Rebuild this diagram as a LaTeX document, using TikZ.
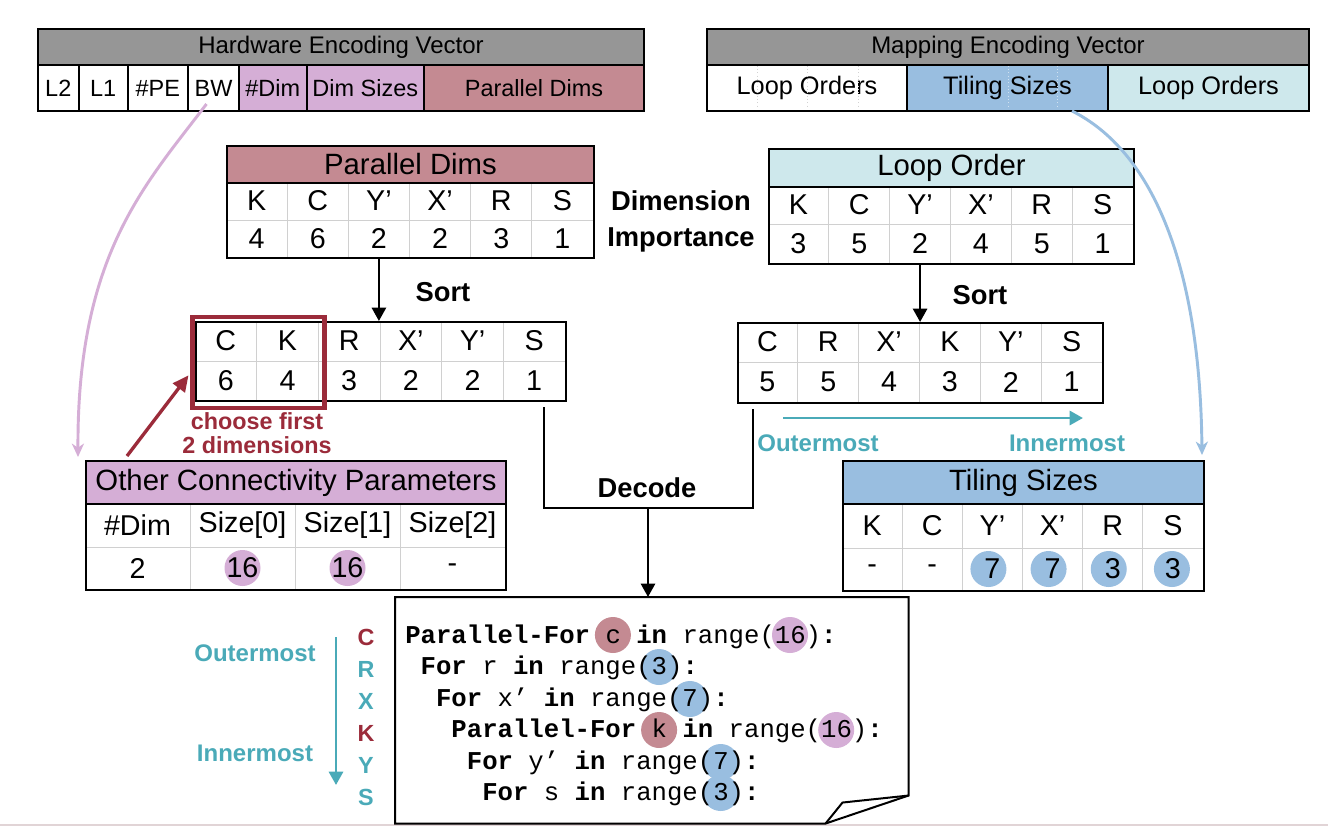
\documentclass[tikz,border=0pt]{standalone}
\usepackage{fontspec}
\setmainfont{Liberation Sans}
\newfontfamily\codefont{Liberation Mono}
\usetikzlibrary{calc,arrows.meta}
\pgfdeclarelayer{bg}
\pgfsetlayers{bg,main}
\definecolor{hwgray}{RGB}{150,150,150}
\definecolor{lpurple}{RGB}{213,174,214}
\definecolor{rosy}{RGB}{196,138,146}
\definecolor{lcyan}{RGB}{206,232,236}
\definecolor{lblue}{RGB}{153,190,224}
\definecolor{dred}{RGB}{155,43,58}
\definecolor{tealc}{RGB}{74,170,184}
\definecolor{gridc}{RGB}{208,208,208}
\definecolor{bline}{RGB}{225,212,214}
\newcommand{\myfs}[1]{\fontsize{#1}{#1}\selectfont}
\tikzset{
  cellt/.style={font=\myfs{21.5}, inner sep=0},
  titlebox/.style={draw=black, line width=1.5pt, anchor=north west, inner sep=0, font=\myfs{22}},
  tframe/.style={draw=black, line width=1.5pt, anchor=north west, inner sep=0},
  vecbox/.style={draw=black, line width=1.5pt, anchor=north west, inner sep=0},
  blk/.style={line width=2pt, -{Triangle[length=10pt,width=10.5pt]}},
  lbl/.style={font=\bfseries\myfs{20.5}, inner sep=0},
  tlbl/.style={font=\bfseries\myfs{18}, text=tealc, inner sep=0},
  rlbl/.style={font=\bfseries\fontsize{17.5}{18.5}\selectfont, text=dred, inner sep=0, align=center},
  pdot/.style={circle, minimum size=27pt, inner sep=0},
  codeln/.style={anchor=base west, inner sep=0, font=\codefont\myfs{19.25}},
  lett/.style={font=\bfseries\myfs{17.5}, inner sep=0},
  tarr/.style={draw=tealc, line width=2.2pt, -{Triangle[length=10pt,width=10.5pt]}},
  arcarr/.style={line width=2.2pt, -{Stealth[length=10pt,width=9pt,inset=3pt]}},
}
\newcommand{\mkgrid}[8]{%
  \pgfmathsetmacro{\cw}{(#3-#2)/#7}%
  \pgfmathtruncatemacro{\nm}{#7-1}%
  \foreach \a/\b [count=\i] in {#8}{%
    \pgfmathsetmacro{\xc}{#2+(\i-0.5)*\cw}%
    \node[cellt] (#1-l\i) at (\xc,{(#4+#5)/2}) {\a};
    \node[cellt] (#1-n\i) at (\xc,{(#5+#6)/2}) {\b};
  }
  \draw[gridc, line width=0.75pt] (#2,#5) -- (#3,#5);
  \foreach \j in {1,...,\nm}{\draw[gridc, line width=0.75pt] ({#2+\j*\cw},#4) -- ({#2+\j*\cw},#6);}
  \pgfmathsetmacro{\ww}{(#3-#2)*0.75}%
  \pgfmathsetmacro{\hh}{(#6-#4)*0.75}%
  \node[tframe, minimum width=\ww pt, minimum height=\hh pt] (#1) at (#2,#4) {};
}
\begin{document}
\begin{tikzpicture}[x=0.75pt,y=-0.75pt]
\useasboundingbox (0,0) rectangle (1328,826);
\begin{pgfonlayer}{bg}
\fill[white] (0,0) rectangle (1328,826);
\end{pgfonlayer}
\draw[bline, line width=1.5pt] (0,825) -- (1328,825);

% Hardware encoding vector
\node[vecbox, fill=hwgray, minimum width=454.5pt, minimum height=27pt, font=\myfs{18}] (hw) at (37,28) {Hardware Encoding Vector};
\foreach \xa/\xb/\t/\f [count=\k] in {37/77.6/L2/white, 77.6/126.5/L1/white, 126.5/187/\#PE/white, 187/238/BW/white, 238/305.6/\#Dim/lpurple, 305.6/423/Dim Sizes/lpurple, 423/643/Parallel Dims/rosy}{
  \pgfmathsetmacro{\ww}{(\xb-\xa)*0.75}
  \node[vecbox, fill=\f, minimum width=\ww pt, minimum height=34.5pt, font=\myfs{17.6}] (hw\k) at (\xa,64) {\t};
}

% Mapping encoding vector
\node[vecbox, fill=hwgray, minimum width=451.5pt, minimum height=27pt, font=\myfs{18}] (mp) at (706,28) {Mapping Encoding Vector};
\foreach \xa/\xb/\t/\f [count=\k] in {706/906/Loop Orders/white, 906/1107/Tiling Sizes/lblue, 1107/1308/Loop Orders/lcyan}{
  \pgfmathsetmacro{\ww}{(\xb-\xa)*0.75}
  \node[vecbox, fill=\f, minimum width=\ww pt, minimum height=34.5pt, font=\myfs{19}] (mp\k) at (\xa,64) {\t};
}
\foreach \xx in {757,807,858}{\draw[gray!35, dotted, line width=0.5pt] (\xx,65.5) -- (\xx,108.5);}
\foreach \xx in {1008,1057}{\draw[white!55!lblue, dotted, line width=0.5pt] (\xx,65.5) -- (\xx,108.5);}
\node[vecbox, minimum width=454.5pt, minimum height=34.5pt] (hwrow) at (37,64) {};
\node[vecbox, minimum width=451.5pt, minimum height=34.5pt] (mprow) at (706,64) {};

% Parallel Dims table
\node[titlebox, fill=rosy, minimum width=275.25pt, minimum height=27.75pt] (pdt) at (226,145) {Parallel Dims};
\mkgrid{pd}{226}{593}{182}{220}{257}{6}{K/4,C/6,Y’/2,X’/2,R/3,S/1}

% Loop Order table
\node[titlebox, fill=lcyan, minimum width=273.75pt, minimum height=28.5pt] (lot) at (768,148) {Loop Order};
\mkgrid{lo}{768}{1133}{186}{224}{263}{6}{K/3,C/5,Y’/2,X’/4,R/5,S/1}

% Sorted tables
\mkgrid{sl}{195}{565}{321}{361}{400}{6}{C/6,K/4,R/3,X’/2,Y’/2,S/1}
\mkgrid{sr}{737}{1102}{322}{362}{402}{6}{C/5,R/5,X’/4,K/3,Y’/2,S/1}

% Other connectivity parameters
\node[titlebox, fill=lpurple, minimum width=315pt, minimum height=32.25pt] (ocpt) at (85,460) {Other Connectivity Parameters};
\mkgrid{ocp}{85}{505}{503}{547}{589}{4}{\#Dim/2,Size[0]/16,Size[1]/16,Size[2]/-}

% Tiling sizes
\node[titlebox, fill=lblue, minimum width=270.75pt, minimum height=32.25pt] (tst) at (842,460) {Tiling Sizes};
\mkgrid{ts}{842}{1203}{503}{548}{590}{6}{K/-,C/-,Y’/7,X’/7,R/3,S/3}

\begin{pgfonlayer}{bg}
  \node[pdot, fill=lpurple] (o2) at (ocp-n2) {};
  \node[pdot, fill=lpurple] (o3) at (ocp-n3) {};
  \node[pdot, fill=lblue] (t3) at ($(ts-n3)+(-4,0)$) {};
  \node[pdot, fill=lblue] (t4) at ($(ts-n4)+(-4,0)$) {};
  \node[pdot, fill=lblue] (t5) at ($(ts-n5)+(-4,0)$) {};
  \node[pdot, fill=lblue] (t6) at ($(ts-n6)+(-1,0)$) {};
\end{pgfonlayer}

% selection box
\node[draw=dred, line width=3.5pt, anchor=north west, minimum width=99pt, minimum height=68.25pt, inner sep=0] (sel) at (190,314.5) {};

% labels
\node[lbl] (sortl) at (443,292) {Sort};
\node[lbl] (sortr) at (980,295) {Sort};
\node[lbl] (di1) at (681,201) {Dimension};
\node[lbl] (di2) at (681,239.5) {Importance};
\node[lbl] (dec) at (647,488) {Decode};
\node[rlbl] (ch) at (257,433) {choose first\\2 dimensions};
\node[tlbl] (om1) at (818,443) {Outermost};
\node[tlbl] (im1) at (1067,443) {Innermost};
\node[tlbl] (om2) at (255,653) {Outermost};
\node[tlbl] (im2) at (255,753) {Innermost};

% code box
\node[anchor=north west, minimum width=384.75pt, minimum height=169.5pt, inner sep=0] (code) at (395,597) {};
\draw[line width=1.5pt, line join=miter] (code.north west) -- (code.north east) -- ($(code.south east)+(0,-28)$) -- ($(code.south east)+(-83,0)$) -- (code.south west) -- cycle;
\draw[line width=1.5pt, line join=miter] ($(code.south east)+(-83,0)$) -- ($(code.south east)+(-66,-21)$) -- ($(code.south east)+(0,-28)$);

\def\cwid{15.4}
\node[codeln] (c0) at (405,643) {\textbf{Parallel-For} c \textbf{in} range(16)\textbf{:}};
\node[codeln] (c1) at (420.4,674.5) {\textbf{For} r \textbf{in} range(3)\textbf{:}};
\node[codeln] (c2) at (435.8,706) {\textbf{For} x’ \textbf{in} range(7)\textbf{:}};
\node[codeln] (c3) at (451.2,737.5) {\textbf{Parallel-For} k \textbf{in} range(16)\textbf{:}};
\node[codeln] (c4) at (466.6,769) {\textbf{For} y’ \textbf{in} range(7)\textbf{:}};
\node[codeln] (c5) at (482,800.5) {\textbf{For} s \textbf{in} range(3)\textbf{:}};

\begin{pgfonlayer}{bg}
  \node[pdot, fill=rosy] (k0) at ($(c0.base west)+({13.5*\cwid},-8)$) {};
  \node[pdot, fill=lpurple] (k1) at ($(c0.base west)+({25*\cwid},-8)$) {};
  \node[pdot, fill=lblue] (k2) at ($(c1.base west)+({15.5*\cwid},-7.5)$) {};
  \node[pdot, fill=lblue] (k3) at ($(c2.base west)+({16.5*\cwid},-7)$) {};
  \node[pdot, fill=rosy] (k4) at ($(c3.base west)+({13.5*\cwid},-7.5)$) {};
  \node[pdot, fill=lpurple] (k5) at ($(c3.base west)+({25*\cwid},-7.5)$) {};
  \node[pdot, fill=lblue] (k6) at ($(c4.base west)+({16.5*\cwid},-7)$) {};
  \node[pdot, fill=lblue] (k7) at ($(c5.base west)+({15.5*\cwid},-7.5)$) {};
\end{pgfonlayer}

% left letters
\node[lett, text=dred] (lC) at (366,637) {C};
\node[lett, text=tealc] (lR) at (366,669) {R};
\node[lett, text=tealc] (lX) at (366,701) {X};
\node[lett, text=dred] (lK) at (366,733) {K};
\node[lett, text=tealc] (lY) at (366,765) {Y};
\node[lett, text=tealc] (lS) at (366,797) {S};

% connectors
\draw[blk] (pd-n3 |- pd.south) -- (pd-n3 |- sl.north);
\draw[blk] (lo-n3 |- lo.south) -- (lo-n3 |- sr.north);
\coordinate (dl) at ($(sl.south east)+(-23,5)$);
\coordinate (dr) at ($(sr.south west)+(16,5)$);
\coordinate (dm) at (648,508);
\draw[line width=2pt, line join=miter] (dl) |- (dm) -| (dr);
\draw[blk] (dm) -- (dm |- code.north);

\draw[dred, line width=2.5pt, -{Triangle[length=12pt,width=11pt]}] ($(ocpt.north west)+(42,-4)$) -- ($(sel.west)+(-1.5,13)$);

\draw[arcarr, draw=lpurple] ($(hw4.south)+(-7,-8)$) .. controls (145,185) and (77,255) .. ($(ocpt.north west)+(-7,-3)$);
\draw[arcarr, draw=lblue] ($(mp2.south)+(64.5,-1)$) .. controls (1150,150) and (1200,260) .. ($(tst.north east)+(-3,-5)$);

\coordinate (ta1) at (783,418);
\coordinate (ta2) at (1083,418);
\draw[tarr] (ta1) -- (ta2);
\coordinate (la1) at (336,637);
\coordinate (la2) at (336,785);
\draw[tarr] (la1) -- (la2);
\end{tikzpicture}
\end{document}
